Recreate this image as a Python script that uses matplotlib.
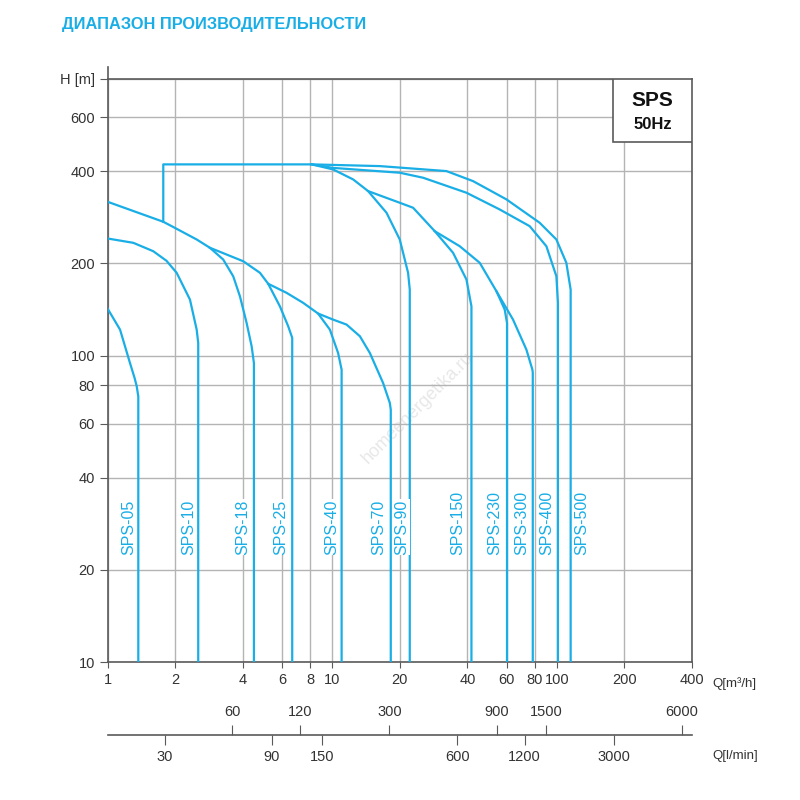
import matplotlib

matplotlib.use("Agg")
import matplotlib.pyplot as plt
from matplotlib.patches import Rectangle
from matplotlib.ticker import FixedLocator, FixedFormatter, NullLocator

BLUE = "#19aee6"
GRID = "#b4b4b4"
SPINE = "#5a5a5a"
TEXT = "#333333"

plt.rcParams["font.family"] = ["Liberation Sans", "DejaVu Sans"]

# pump envelope curves, Q in m3/h, H in m
SPS05_Q = [1.0, 1.137, 1.259, 1.32, 1.349, 1.371, 1.371]
SPS05_H = [142.5, 121.6, 94.6, 84.5, 79.4, 73.6, 10]

SPS10_Q = [1.0, 1.302, 1.598, 1.83, 2.031, 2.328, 2.494, 2.534, 2.534]
SPS10_H = [241.2, 233.5, 219.2, 204.0, 186.4, 152.4, 121.6, 110.0, 10]

SPS18_Q = [1.0, 1.771, 2.031, 2.494, 2.857, 3.274, 3.627, 3.886, 4.161, 4.381, 4.485, 4.485]
SPS18_H = [317.9, 273.5, 259.4, 239.4, 224.9, 205.9, 181.6, 156.2, 127.9, 107.3, 94.6, 10]

SPS25_Q = [2.857, 4.019, 4.77, 5.192, 5.853, 6.374, 6.641, 6.641]
SPS25_H = [224.9, 203.3, 186.4, 171.6, 144.9, 124.7, 114.3, 10]

SPS40_Q = [5.192, 6.27, 7.43, 8.66, 9.77, 10.63, 11.02, 11.02]
SPS40_H = [171.6, 160.3, 148.7, 137.2, 121.6, 102.0, 90.0, 10]

SPS70_Q = [8.66, 10.1, 11.59, 13.29, 14.72, 16.86, 18.06, 18.24, 18.24]
SPS70_H = [137.2, 131.1, 126.3, 115.7, 102.0, 81.4, 70.1, 66.6, 10]

SPS90_Q = [8.1, 10.1, 12.4, 14.46, 17.46, 20.0, 21.78, 22.16, 22.16]
SPS90_H = [421, 405.3, 376, 344.4, 292.7, 239.4, 186.4, 164.3, 10]

SPS150_Q = [14.46, 16.3, 20.0, 22.93, 28.63, 34.54, 39.62, 41.7, 41.7]
SPS150_H = [344.4, 333.4, 315.5, 303.9, 254.8, 216.6, 177.2, 144.9, 10]

SPS230_Q = [28.63, 36.98, 45.4, 53.87, 58.64, 60.05, 60.05]
SPS230_H = [254.8, 227.6, 200.9, 162.3, 141.4, 127.9, 10]

SPS300_Q = [53.87, 63.87, 73.26, 77.9, 78.2, 78.2]
SPS300_H = [162.3, 131.1, 104.6, 90.0, 88.0, 10]

SPS400_Q = [8.1, 10.1, 20.0, 25.4, 39.62, 55.72, 75.76, 89.9, 99.6, 101.2, 101.2]
SPS400_H = [421, 410, 395.4, 380.8, 340.2, 300.0, 264.6, 227.6, 181.6, 148.7, 10]

SPS500_Q = [1.771, 1.771, 8.1, 16.3, 32.28, 42.4, 59.7, 83.9, 99.6, 110.3, 115.3, 115.3]
SPS500_H = [273.5, 421, 421, 415.6, 400.3, 371.2, 323.6, 271.5, 239.4, 200.9, 164.3, 10]

PUMPS = ["SPS-05", "SPS-10", "SPS-18", "SPS-25", "SPS-40", "SPS-70",
         "SPS-90", "SPS-150", "SPS-230", "SPS-300", "SPS-400", "SPS-500"]
CURVES_Q = [SPS05_Q, SPS10_Q, SPS18_Q, SPS25_Q, SPS40_Q, SPS70_Q,
            SPS90_Q, SPS150_Q, SPS230_Q, SPS300_Q, SPS400_Q, SPS500_Q]
CURVES_H = [SPS05_H, SPS10_H, SPS18_H, SPS25_H, SPS40_H, SPS70_H,
            SPS90_H, SPS150_H, SPS230_H, SPS300_H, SPS400_H, SPS500_H]
LABEL_Q = [1.24, 2.29, 3.99, 5.88, 9.92, 16.1, 20.5, 36.4, 53.2, 70.2, 90.6, 129.7]
LABEL_H = 22.4

X_TICKS = [1, 2, 4, 6, 8, 10, 20, 40, 60, 80, 100, 200, 400]
Y_TICKS = [10, 20, 40, 60, 80, 100, 200, 400, 600, 800]
Y_LABELS = ["10", "20", "40", "60", "80", "100", "200", "400", "600", "H [m]"]
LMIN_LOW = [30, 90, 150, 600, 1200, 3000]
LMIN_HIGH = [60, 120, 300, 900, 1500, 6000]
M3H_TO_LMIN = 1000 / 60

fig = plt.figure(figsize=(8, 8), dpi=100)
ax = fig.add_axes([0.1344, 0.1725, 0.7306, 0.7288])
ax.set_xscale("log")
ax.set_yscale("log")
ax.set_xlim(1, 400)
ax.set_ylim(10, 800)

ax.xaxis.set_major_locator(FixedLocator(X_TICKS))
ax.xaxis.set_major_formatter(FixedFormatter([str(v) for v in X_TICKS]))
ax.xaxis.set_minor_locator(NullLocator())
ax.yaxis.set_major_locator(FixedLocator(Y_TICKS))
ax.yaxis.set_major_formatter(FixedFormatter(Y_LABELS))
ax.yaxis.set_minor_locator(NullLocator())
ax.grid(True, color=GRID, lw=1.0)
ax.tick_params(axis="x", length=4, pad=4, color=SPINE, labelcolor=TEXT, labelsize=10.5)
ax.tick_params(axis="y", length=6, pad=3, color=SPINE, labelcolor=TEXT, labelsize=10.5)
for s in ax.spines.values():
    s.set_color(SPINE)
    s.set_linewidth(1.2)
ax.plot([0, 0], [1, 1.02], transform=ax.transAxes, color=SPINE, lw=1.2, clip_on=False)

for name, qs, hs, lq in zip(PUMPS, CURVES_Q, CURVES_H, LABEL_Q):
    ax.plot(qs, hs, color=BLUE, lw=1.6, solid_joinstyle="round", zorder=3)
    ax.text(lq, LABEL_H, name, rotation=90, ha="center", va="bottom", color=BLUE,
            fontsize=11.5, zorder=4,
            bbox=dict(fc="white", ec="none", pad=0.5))

ax.add_patch(Rectangle((0.865, 0.892), 0.135, 0.108, transform=ax.transAxes,
                       fc="white", ec=SPINE, lw=1.2, zorder=5))
ax.text(0.9325, 0.963, "SPS", transform=ax.transAxes, ha="center", va="center",
        fontsize=15, fontweight="bold", color="#111111", zorder=6)
ax.text(0.9325, 0.922, "50Hz", transform=ax.transAxes, ha="center", va="center",
        fontsize=12, fontweight="bold", color="#111111", zorder=6)
ax.text(0.5225, 0.49, "homeenergetika.ru", transform=fig.transFigure, rotation=45,
        ha="center", va="center", fontsize=13, color="#e8e8e8", zorder=1)

# flow scale in l/min
ax2 = fig.add_axes([0.1344, 0.08125, 0.7306, 0.0005])
ax2.set_xscale("log")
ax2.set_xlim(1 * M3H_TO_LMIN, 400 * M3H_TO_LMIN)
ax2.set_yticks([])
for k in ["left", "right", "top"]:
    ax2.spines[k].set_visible(False)
ax2.spines["bottom"].set_color(SPINE)
ax2.spines["bottom"].set_linewidth(1.2)
ax2.xaxis.set_major_locator(FixedLocator(LMIN_LOW))
ax2.xaxis.set_major_formatter(FixedFormatter([str(v) for v in LMIN_LOW]))
ax2.xaxis.set_minor_locator(NullLocator())
ax2.tick_params(axis="x", length=7, pad=4, color=SPINE, labelcolor=TEXT, labelsize=10.5)
top = ax2.secondary_xaxis("top")
top.xaxis.set_major_locator(FixedLocator(LMIN_HIGH))
top.xaxis.set_major_formatter(FixedFormatter([str(v) for v in LMIN_HIGH]))
top.xaxis.set_minor_locator(NullLocator())
top.tick_params(axis="x", length=7, pad=4, color=SPINE, labelcolor=TEXT, labelsize=10.5)
top.spines["top"].set_visible(False)

fig.text(62 / 800, 1 - 24 / 800, "ДИАПАЗОН ПРОИЗВОДИТЕЛЬНОСТИ", ha="left", va="center",
         fontsize=11.8, fontweight="bold", color=BLUE)
fig.text(712 / 800, 1 - 684 / 800, "Q[m³/h]", ha="left", va="center", fontsize=9.5, color=TEXT)
fig.text(712 / 800, 1 - 756 / 800, "Q[l/min]", ha="left", va="center", fontsize=9.5, color=TEXT)

fig.savefig("out.png", dpi=100, facecolor="white")
